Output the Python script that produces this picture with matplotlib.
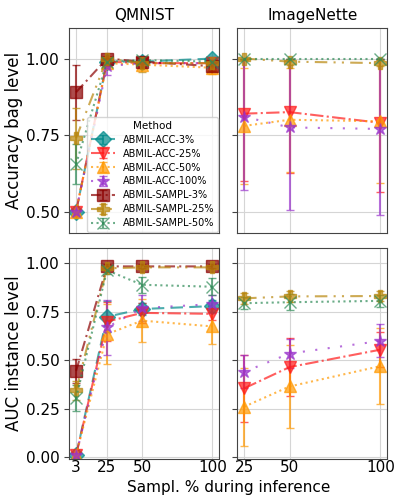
import numpy as np
import matplotlib
matplotlib.use("Agg")
import matplotlib.pyplot as plt

# datos
metodos = ["ABMIL-ACC-3%", "ABMIL-ACC-25%", "ABMIL-ACC-50%", "ABMIL-ACC-100%",
           "ABMIL-SAMPL-3%", "ABMIL-SAMPL-25%", "ABMIL-SAMPL-50%"]

x_qmnist = [3, 25, 50, 100]
x_imagenette = [25, 50, 100]

nan = np.nan

# QMNIST - accuracy bag level
qm_bag = [[0.50, 0.99, 0.99, 1.00],
          [0.50, 0.99, 0.985, 0.985],
          [0.50, 0.985, 0.98, 0.97],
          [0.50, 0.975, 0.985, 0.985],
          [0.89, 1.00, 0.99, 0.975],
          [0.74, 1.00, 0.985, 0.985],
          [0.655, 0.99, 0.995, 0.99]]
qm_bag_err = [[0.005, 0.01, 0.01, 0.005],
              [0.005, 0.01, 0.01, 0.01],
              [0.005, 0.01, 0.01, 0.02],
              [0.005, 0.03, 0.01, 0.01],
              [0.09, 0.005, 0.01, 0.015],
              [0.10, 0.005, 0.03, 0.01],
              [0.065, 0.005, 0.005, 0.005]]

# ImageNette - accuracy bag level
in_bag = [[nan, nan, nan],
          [0.82, 0.825, 0.79],
          [0.78, 0.80, 0.795],
          [0.81, 0.775, 0.77],
          [nan, nan, nan],
          [1.00, 0.99, 0.985],
          [1.00, 1.00, 1.00]]
in_bag_err = [[nan, nan, nan],
              [0.22, 0.20, 0.225],
              [0.19, 0.17, 0.20],
              [0.24, 0.27, 0.28],
              [nan, nan, nan],
              [0.005, 0.01, 0.01],
              [0.002, 0.002, 0.002]]

# QMNIST - AUC instance level
qm_auc = [[0.01, 0.725, 0.765, 0.78],
          [0.01, 0.70, 0.745, 0.74],
          [0.01, 0.635, 0.705, 0.675],
          [0.01, 0.67, 0.77, 0.79],
          [0.445, 0.985, 0.985, 0.985],
          [0.345, 0.975, 0.98, 0.98],
          [0.305, 0.965, 0.89, 0.88]]
qm_auc_err = [[0.01, 0.08, 0.03, 0.03],
              [0.01, 0.10, 0.05, 0.03],
              [0.01, 0.155, 0.11, 0.09],
              [0.01, 0.14, 0.065, 0.045],
              [0.064, 0.01, 0.01, 0.01],
              [0.05, 0.01, 0.01, 0.01],
              [0.065, 0.02, 0.04, 0.045]]

# ImageNette - AUC instance level
in_auc = [[nan, nan, nan],
          [0.355, 0.465, 0.555],
          [0.26, 0.365, 0.47],
          [0.44, 0.535, 0.60],
          [nan, nan, nan],
          [0.82, 0.83, 0.832],
          [0.795, 0.80, 0.807]]
in_auc_err = [[nan, nan, nan],
              [0.175, 0.15, 0.09],
              [0.20, 0.215, 0.195],
              [0.085, 0.075, 0.085],
              [nan, nan, nan],
              [0.03, 0.03, 0.025],
              [0.03, 0.04, 0.03]]

colores = ["#008b8b", "#ff1a1a", "#ff9900", "#9932cc", "#8b0000", "#b8860b", "#2e8b57"]
marcadores = ["D", "v", "^", "*", "s", "P", "x"]
estilos = [(0, (6, 3)), "-.", ":", (0, (1, 5)), (0, (5, 2, 1, 2)),
           (0, (6, 3, 1, 3, 1, 3)), ":"]
tamanos = [8, 8, 8, 9, 8, 8, 8]

fig, axs = plt.subplots(2, 2, figsize=(3.98, 4.99), dpi=100, sharey="row",
                        gridspec_kw={"height_ratios": [205, 211]})
fig.subplots_adjust(left=0.174, right=0.973, top=0.944, bottom=0.080,
                    wspace=0.12, hspace=0.072)

paneles = [(axs[0, 0], x_qmnist, qm_bag, qm_bag_err),
           (axs[0, 1], x_imagenette, in_bag, in_bag_err),
           (axs[1, 0], x_qmnist, qm_auc, qm_auc_err),
           (axs[1, 1], x_imagenette, in_auc, in_auc_err)]

for ax, xs, medias, errores in paneles:
    ax.grid(True, color="#d5d5d5", linewidth=0.8)
    ax.set_axisbelow(True)
    for i in range(len(metodos)):
        m = np.array(medias[i])
        e = np.array(errores[i])
        # la metrica no pasa de 1
        arriba = np.minimum(m + e, 1.0) - m
        ax.errorbar(xs, m, yerr=[e, arriba], color=colores[i], marker=marcadores[i],
                    markersize=tamanos[i], linestyle=estilos[i], linewidth=1.5,
                    capsize=3, elinewidth=1.5, alpha=0.7, label=metodos[i])
    ax.set_xticks(xs)
    ax.tick_params(labelsize=11, color="#444444")
    ax.tick_params(axis="x", length=0, pad=1)
    for s in ax.spines.values():
        s.set_color("#444444")

axs[0, 0].set_ylim(0.43, 1.10)
axs[0, 0].set_yticks([0.5, 0.75, 1.0])
axs[0, 0].set_yticklabels(["0.50", "0.75", "1.00"])
axs[1, 0].set_ylim(-0.01, 1.08)
axs[1, 0].set_yticks([0, 0.25, 0.5, 0.75, 1.0])
axs[1, 0].set_yticklabels(["0.00", "0.25", "0.50", "0.75", "1.00"])

for ax in axs[0, :]:
    ax.tick_params(labelbottom=False)

axs[0, 0].set_title("QMNIST", fontsize=11)
axs[0, 1].set_title("ImageNette", fontsize=11)
axs[0, 0].set_ylabel("Accuracy bag level", fontsize=12, labelpad=2)
axs[1, 0].set_ylabel("AUC instance level", fontsize=12, labelpad=2)
fig.text(0.574, 0.008, "Sampl. % during inference", ha="center", va="bottom", fontsize=11)

axs[0, 0].legend(title="Method", fontsize=7, title_fontsize=7.5, loc="lower right",
                 borderaxespad=0.1, handlelength=2.5, labelspacing=0.4,
                 framealpha=0.8)

plt.savefig("out.png", dpi=100)
